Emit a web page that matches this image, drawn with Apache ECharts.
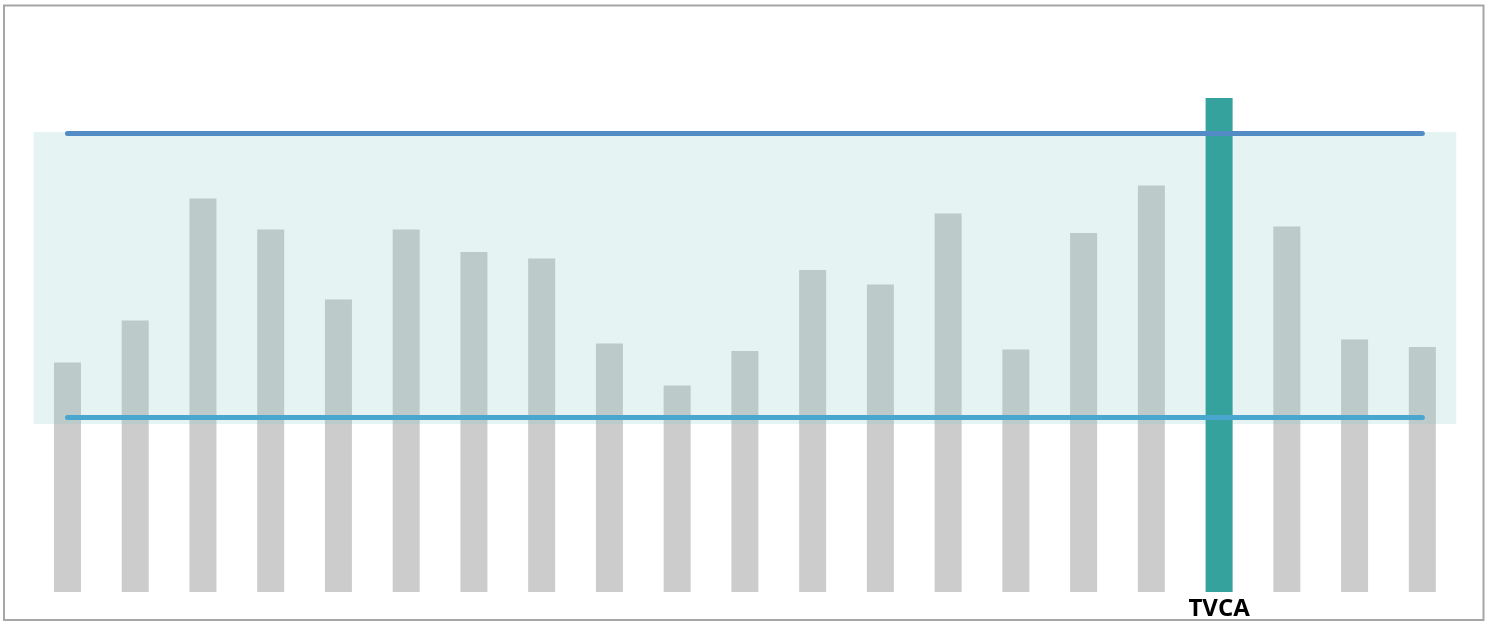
<!DOCTYPE html>
<html>
<head>
<meta charset="utf-8">
<script src="https://cdn.jsdelivr.net/npm/echarts@6/dist/echarts.min.js"></script>
<style>html,body{margin:0;padding:0;background:#fff;}#c{width:1486px;height:621px;}</style>
</head>
<body>
<div id="c"></div>
<script>
// categories: only the highlighted one carries a visible name
var categories = ['c1','c2','c3','c4','c5','c6','c7','c8','c9','c10','c11','c12','c13','c14','c15','c16','c17','TVCA','c19','c20','c21'];
var highlight = 'TVCA';
var values = [45.9, 54.3, 78.7, 72.5, 58.5, 72.5, 68.0, 66.7, 49.7, 41.3, 48.2, 64.4, 61.5, 75.7, 48.5, 71.8, 81.3, 98.8, 73.1, 50.5, 49.0];
var bandRange = [33.6, 92.0];
var upperLine = 91.8;
var lowerLine = 35.0;

var grayData = values.map(function (v, i) { return categories[i] === highlight ? '-' : v; });
var tealData = values.map(function (v, i) { return categories[i] === highlight ? v : '-'; });

var chart = echarts.init(document.getElementById('c'), null, {renderer: 'canvas'});
chart.setOption({
  animation: false,
  backgroundColor: '#ffffff',
  grid: {left: 33.6, right: 29.8, top: 92, bottom: 29, containLabel: false},
  xAxis: {
    type: 'category',
    data: categories,
    axisLine: {show: false},
    axisTick: {show: false},
    splitLine: {show: false},
    axisLabel: {
      interval: 0,
      margin: 5,
      color: '#000000',
      fontFamily: 'Open Sans',
      fontWeight: 'bold',
      fontSize: 24,
      formatter: function (v) { return v === highlight ? v : ''; }
    }
  },
  yAxis: {type: 'value', min: 0, max: 100, show: false, splitLine: {show: false}},
  graphic: [{
    type: 'rect',
    shape: {x: 4, y: 5.5, width: 1479.5, height: 614.5},
    style: {fill: 'none', stroke: '#a6a6a6', lineWidth: 2},
    silent: true, z: 100
  }],
  series: [
    {
      type: 'bar', name: 'others', z: 1,
      barWidth: 27,
      data: grayData,
      itemStyle: {color: '#cccccc'},
      markArea: {
        z: 2,
        silent: true,
        itemStyle: {color: 'rgba(128,194,194,0.2)'},
        data: [[{yAxis: bandRange[1]}, {yAxis: bandRange[0]}]]
      }
    },
    {
      type: 'bar', name: highlight, z: 3,
      barWidth: 27, barGap: '-100%',
      data: tealData,
      itemStyle: {color: '#35a29d'},
      markLine: {
        z: 4,
        silent: true,
        symbol: ['none', 'none'],
        label: {show: false},
        data: [
          [{xAxis: 0, yAxis: upperLine, lineStyle: {color: '#538bc5', width: 5, type: 'solid', cap: 'round'}},
           {xAxis: categories.length - 1, yAxis: upperLine}],
          [{xAxis: 0, yAxis: lowerLine, lineStyle: {color: '#48a6cf', width: 5, type: 'solid', cap: 'round'}},
           {xAxis: categories.length - 1, yAxis: lowerLine}]
        ]
      }
    }
  ]
});
</script>
</body>
</html>
